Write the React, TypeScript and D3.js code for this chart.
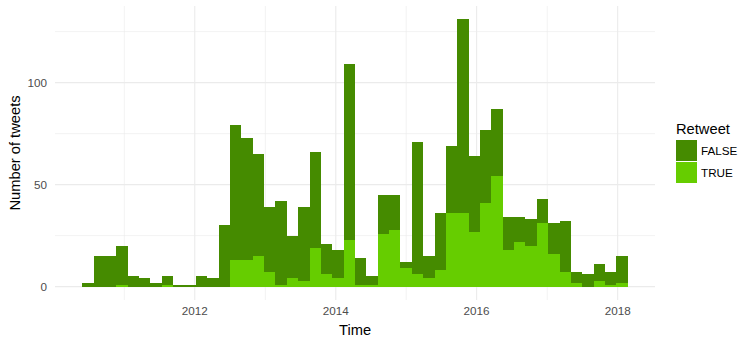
import React from "react";
import * as d3 from "d3";

// Histogram bins (2-month-ish bins) starting date and bin width
const binStartDate = new Date(2010, 4, 28);
const binWidthDays = 58.9;

// Total tweets per bin and retweets (TRUE) per bin
const totalCounts = [2, 15, 15, 20, 5, 4, 2, 5, 1, 1, 5, 4, 30, 79, 73, 65, 39, 42, 25, 39, 66, 21, 18, 109, 14, 5, 45, 45, 12, 71, 15, 36, 69, 131, 64, 77, 87, 34, 34, 33, 43, 31, 32, 7, 6, 11, 7, 15];
const trueCounts = [0, 0, 0, 1, 0, 0, 0, 1, 0, 0, 0, 0, 0, 13, 13, 15, 7, 1, 4, 3, 19, 6, 4, 23, 1, 1, 26, 28, 9, 6, 4, 8, 36, 36, 27, 41, 54, 18, 22, 20, 31, 16, 7, 2, 0, 3, 1, 2];

const xTickYears = [2012, 2014, 2016, 2018];
const xMinorYears = [2011, 2013, 2015, 2017];
const yTicks = [0, 50, 100];
const yMinor = [25, 75, 125];
const legendTitle = "Retweet";
const legendLabels = ["FALSE", "TRUE"];
const colors = { FALSE: "#458B00", TRUE: "#66CD00" };

export default function App() {
  const W = 753, H = 344;
  const left = 55, right = 655, top = 6, bottom = 300;
  const font = "'Liberation Sans', Arial, sans-serif";
  const DAY = 86400000;
  const n = totalCounts.length;
  const dataStart = binStartDate.getTime();
  const dataEnd = dataStart + n * binWidthDays * DAY;
  const span = dataEnd - dataStart;
  const x = d3.scaleTime()
    .domain([new Date(dataStart - 0.05 * span), new Date(dataEnd + 0.05 * span)])
    .range([left, right]);
  const yMax = d3.max(totalCounts) as number;
  const y = d3.scaleLinear()
    .domain([-0.05 * yMax, yMax * 1.05])
    .range([bottom, top]);

  const bins = totalCounts.map((t, i) => {
    const x0 = new Date(dataStart + i * binWidthDays * DAY);
    const x1 = new Date(dataStart + (i + 1) * binWidthDays * DAY);
    return { x0, x1, total: t, tr: trueCounts[i] };
  });

  const grid = "#EBEBEB";
  return (
    <svg width={W} height={H} style={{ display: "block", position: "absolute", left: 0, top: 0 }}>
      <rect width={W} height={H} fill="white" />
      {yMinor.map((v) => (
        <line key={"ym" + v} x1={left} x2={right} y1={y(v)} y2={y(v)} stroke={grid} strokeWidth={0.6} />
      ))}
      {xMinorYears.map((v) => (
        <line key={"xm" + v} x1={x(new Date(v, 0, 1))} x2={x(new Date(v, 0, 1))} y1={top} y2={bottom} stroke={grid} strokeWidth={0.6} />
      ))}
      {yTicks.map((v) => (
        <line key={"y" + v} x1={left} x2={right} y1={y(v)} y2={y(v)} stroke={grid} strokeWidth={1.1} />
      ))}
      {xTickYears.map((v) => (
        <line key={"x" + v} x1={x(new Date(v, 0, 1))} x2={x(new Date(v, 0, 1))} y1={top} y2={bottom} stroke={grid} strokeWidth={1.1} />
      ))}
      {bins.map((b, i) => (
        <g key={"b" + i}>
          {b.total - b.tr > 0 && (
            <rect x={x(b.x0)} width={x(b.x1) - x(b.x0)} y={y(b.total)} height={y(b.tr) - y(b.total)} fill={colors.FALSE} shapeRendering="crispEdges" />
          )}
          {b.tr > 0 && (
            <rect x={x(b.x0)} width={x(b.x1) - x(b.x0)} y={y(b.tr)} height={y(0) - y(b.tr)} fill={colors.TRUE} shapeRendering="crispEdges" />
          )}
        </g>
      ))}
      {yTicks.map((v) => (
        <text key={"yl" + v} x={47} y={y(v)} dy="0.35em" textAnchor="end" fontFamily={font} fontSize={11.7} fill="#4D4D4D">{v}</text>
      ))}
      {xTickYears.map((v) => (
        <text key={"xl" + v} x={x(new Date(v, 0, 1))} y={315} textAnchor="middle" fontFamily={font} fontSize={11.7} fill="#4D4D4D">{v}</text>
      ))}
      <text x={(left + right) / 2} y={335} textAnchor="middle" fontFamily={font} fontSize={14.7} fill="black">Time</text>
      <text transform={`translate(20,${(top + bottom) / 2}) rotate(-90)`} textAnchor="middle" fontFamily={font} fontSize={14.7} fill="black">Number of tweets</text>
      <text x={676} y={134} fontFamily={font} fontSize={14.7} fill="black">{legendTitle}</text>
      {legendLabels.map((l, i) => (
        <g key={l}>
          <rect x={676} y={140 + i * 22} width={21} height={21} fill={colors[l as "FALSE" | "TRUE"]} />
          <text x={701} y={151 + i * 22} dy="0.35em" fontFamily={font} fontSize={11.7} fill="black">{l}</text>
        </g>
      ))}
    </svg>
  );
}
